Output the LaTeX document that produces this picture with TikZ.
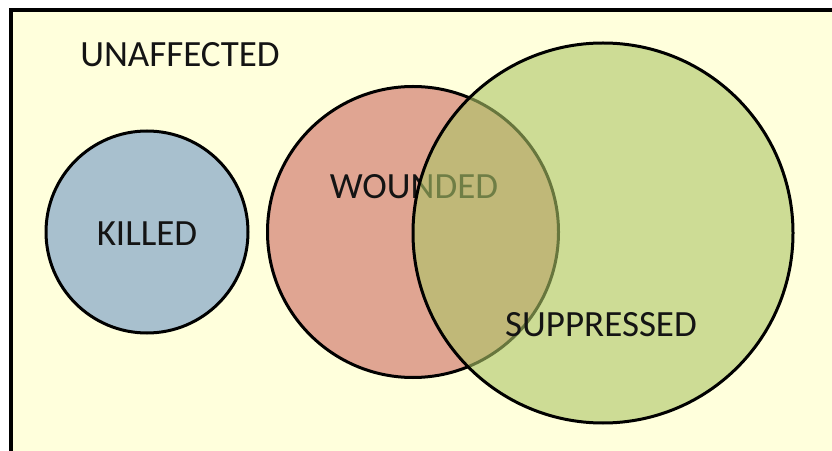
\documentclass[tikz,border=0pt]{standalone}
\usepackage{fontspec}
\setmainfont{Carlito}
\definecolor{bgyellow}{RGB}{255,255,220}
\definecolor{killblue}{RGB}{168,192,206}
\definecolor{woundred}{RGB}{224,165,146}
\definecolor{suppgreen}{RGB}{172,197,103}
\definecolor{inktext}{RGB}{20,20,20}
\begin{document}
\begin{tikzpicture}[x=1pt,y=1pt,
  circ/.style={circle,draw=black,line width=3pt,inner sep=0pt},
  lab/.style={font=\fontsize{37}{44}\selectfont,text=inktext,inner sep=0pt}]
\useasboundingbox (0,0) rectangle (832,450);
\clip (0,0) rectangle (832,450);
\fill[white] (0,0) rectangle (832,450);
\draw[fill=bgyellow,line width=3.2pt] (11,440) rectangle (845,-20);
\node[lab,anchor=base] (unaff) at (180,383) {UNAFFECTED};
\node[circ,fill=killblue,minimum size=202pt] (killed) at (147,218) {};
\node[lab] (klab) at (147,216) {KILLED};
\node[circ,fill=woundred,minimum size=291pt] (wounded) at (413,218) {};
\node[lab] (wlab) at (414,263) {WOUNDED};
\node[circ,fill=suppgreen,fill opacity=0.6,minimum size=380pt] (suppressed) at (603,217) {};
\node[lab] (slab) at (601,125) {SUPPRESSED};
\end{tikzpicture}
\end{document}
